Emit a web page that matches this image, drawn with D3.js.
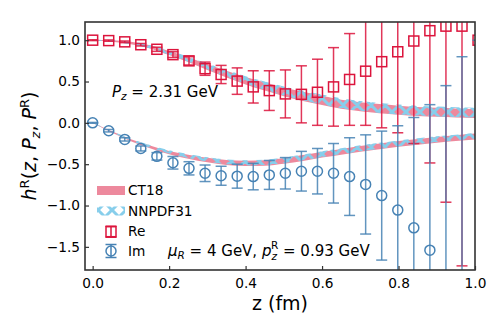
<!DOCTYPE html>
<html><head><meta charset="utf-8">
<script src="https://cdn.jsdelivr.net/npm/d3@7"></script>
<style>
body{margin:0;background:#fff}
svg{font-family:"DejaVu Sans",sans-serif}
</style></head><body>
<svg id="chart" width="500" height="320"></svg>
<script>
// lattice points z (fm)
const zLat = [0, 0.042, 0.084, 0.126, 0.168, 0.21, 0.252, 0.294, 0.336, 0.378, 0.42, 0.462, 0.504,
  0.546, 0.588, 0.63, 0.672, 0.714, 0.756, 0.798, 0.84, 0.882, 0.924, 0.966, 1.008];
const reVal = [1.0, 0.995, 0.98, 0.945, 0.89, 0.825, 0.75, 0.655, 0.585, 0.505, 0.435, 0.39, 0.35,
  0.345, 0.37, 0.435, 0.525, 0.625, 0.74, 0.86, 0.99, 1.115, 1.17, 1.17, 1.0];
const reErr = [0.005, 0.008, 0.01, 0.015, 0.025, 0.035, 0.05, 0.08, 0.11, 0.16, 0.195, 0.24, 0.29,
  0.345, 0.40, 0.475, 0.555, 0.655, 0.80, 0.98, 1.24, 1.6, 2.13, 2.9, 3.5];
const imVal = [0, -0.095, -0.2, -0.31, -0.405, -0.483, -0.55, -0.61, -0.64, -0.645, -0.65, -0.63, -0.61,
  -0.585, -0.585, -0.61, -0.65, -0.745, -0.88, -1.055, -1.27, -1.54, -1.85, -2.2, -2.5];
const imErr = [0.005, 0.015, 0.02, 0.03, 0.045, 0.076, 0.08, 0.1, 0.115, 0.145, 0.16, 0.175, 0.19,
  0.24, 0.275, 0.36, 0.47, 0.6, 0.78, 1.02, 1.335, 1.76, 2.3, 3.0, 3.5];

// PDF predictions
const zBand = [0, 0.05, 0.1, 0.15, 0.2, 0.25, 0.3, 0.35, 0.4, 0.45, 0.5, 0.55, 0.6, 0.65, 0.7,
  0.75, 0.8, 0.85, 0.9, 0.95, 1.0];
const reCT18 = [1.0, 0.99, 0.965, 0.92, 0.845, 0.765, 0.675, 0.59, 0.51, 0.44, 0.375, 0.32, 0.272,
  0.225, 0.195, 0.172, 0.152, 0.138, 0.128, 0.12, 0.114];
const reCT18Err = [0.005, 0.01, 0.015, 0.02, 0.025, 0.03, 0.035, 0.04, 0.045, 0.05, 0.052, 0.055,
  0.055, 0.055, 0.055, 0.055, 0.055, 0.055, 0.055, 0.055, 0.055];
const reNNPDF = [1.0, 0.99, 0.967, 0.923, 0.85, 0.77, 0.682, 0.598, 0.52, 0.45, 0.385, 0.33, 0.282,
  0.237, 0.205, 0.18, 0.162, 0.148, 0.138, 0.13, 0.124];
const reNNPDFErr = [0.005, 0.01, 0.015, 0.02, 0.025, 0.03, 0.035, 0.04, 0.045, 0.05, 0.055, 0.058,
  0.06, 0.06, 0.06, 0.06, 0.06, 0.06, 0.06, 0.06, 0.06];
const imCT18 = [0, -0.11, -0.21, -0.29, -0.36, -0.41, -0.45, -0.48, -0.49, -0.485, -0.46, -0.425,
  -0.385, -0.35, -0.315, -0.285, -0.255, -0.23, -0.205, -0.185, -0.165];
const imCT18Err = [0.003, 0.007, 0.012, 0.016, 0.02, 0.024, 0.027, 0.03, 0.032, 0.033, 0.034, 0.035,
  0.035, 0.035, 0.035, 0.035, 0.035, 0.035, 0.035, 0.035, 0.035];
const imNNPDF = [0, -0.105, -0.205, -0.285, -0.352, -0.402, -0.442, -0.472, -0.483, -0.478, -0.452,
  -0.417, -0.377, -0.342, -0.307, -0.277, -0.247, -0.222, -0.198, -0.178, -0.158];
const imNNPDFErr = [0.003, 0.007, 0.012, 0.016, 0.02, 0.024, 0.027, 0.03, 0.032, 0.033, 0.034, 0.035,
  0.035, 0.035, 0.035, 0.035, 0.035, 0.035, 0.035, 0.035, 0.035];

const xTicks = [0, 0.2, 0.4, 0.6, 0.8, 1.0];
const yTicks = [-1.5, -1.0, -0.5, 0.0, 0.5, 1.0];

const RED = '#dc143c', BLUE = '#4682b4', SKY = '#87ceeb';

const svg = d3.select('#chart');
const margin = {left: 85, top: 22, right: 25, bottom: 50};
const W = 500, H = 320;

const x = d3.scaleLinear().domain([-0.02, 1.0]).range([margin.left, W - margin.right]);
const y = d3.scaleLinear().domain([-1.78, 1.22]).range([H - margin.bottom, margin.top]);

const defs = svg.append('defs');
defs.append('clipPath').attr('id', 'plotclip')
  .append('rect')
  .attr('x', margin.left).attr('y', margin.top)
  .attr('width', W - margin.left - margin.right)
  .attr('height', H - margin.top - margin.bottom);

// 'x' hatch like matplotlib
const hp = defs.append('pattern').attr('id', 'hatch')
  .attr('patternUnits', 'userSpaceOnUse')
  .attr('width', 14).attr('height', 14);
hp.append('path')
  .attr('d', 'M0,0L14,14M-7,7L7,21M7,-7L21,7M0,14L14,0M-7,7L7,-7M7,21L21,7')
  .attr('stroke', SKY).attr('stroke-width', 3).attr('fill', 'none');

const plot = svg.append('g').attr('clip-path', 'url(#plotclip)');

function band(vals, errs) {
  return d3.area()
    .x(i => x(zBand[i]))
    .y0(i => y(vals[i] - errs[i]))
    .y1(i => y(vals[i] + errs[i]))
    .curve(d3.curveMonotoneX)(d3.range(zBand.length));
}

// CT18 bands
[[reCT18, reCT18Err], [imCT18, imCT18Err]].forEach(([v, e]) => {
  plot.append('path').attr('d', band(v, e))
    .attr('fill', RED).attr('fill-opacity', 0.5).attr('stroke', 'none');
});
// NNPDF31 bands (hatched)
[[reNNPDF, reNNPDFErr], [imNNPDF, imNNPDFErr]].forEach(([v, e]) => {
  plot.append('path').attr('d', band(v, e))
    .attr('fill', 'url(#hatch)').attr('stroke', 'none');
});

function errorbars(vals, errs, color, marker) {
  const g = plot.append('g');
  const pts = g.selectAll('g').data(zLat.map((z, i) => ({z: z, v: vals[i], e: errs[i]})))
    .enter().append('g');
  pts.append('line')
    .attr('x1', d => x(d.z)).attr('x2', d => x(d.z))
    .attr('y1', d => y(d.v - d.e)).attr('y2', d => y(d.v + d.e))
    .attr('stroke', color).attr('stroke-width', 1.5).attr('stroke-opacity', 0.85);
  [-1, 1].forEach(s => {
    pts.append('line')
      .attr('x1', d => x(d.z) - 5.5).attr('x2', d => x(d.z) + 5.5)
      .attr('y1', d => y(d.v + s * d.e)).attr('y2', d => y(d.v + s * d.e))
      .attr('stroke', color).attr('stroke-width', 1.5).attr('stroke-opacity', 0.85);
  });
  if (marker === 'square') {
    pts.append('rect')
      .attr('x', d => x(d.z) - 5).attr('y', d => y(d.v) - 5)
      .attr('width', 10).attr('height', 10)
      .attr('fill', 'none').attr('stroke', color).attr('stroke-width', 1.5);
  } else {
    pts.append('circle')
      .attr('cx', d => x(d.z)).attr('cy', d => y(d.v)).attr('r', 5)
      .attr('fill', 'none').attr('stroke', color).attr('stroke-width', 1.5);
  }
}
errorbars(reVal, reErr, RED, 'square');
errorbars(imVal, imErr, BLUE, 'circle');

// axes
const xAxis = d3.axisBottom(x).tickValues(xTicks).tickFormat(d3.format('.1f'))
  .tickSizeInner(-4).tickSizeOuter(0).tickPadding(8.5);
const yAxis = d3.axisLeft(y).tickValues(yTicks).tickFormat(d3.format('.1f'))
  .tickSizeInner(-4).tickSizeOuter(0).tickPadding(5);

const gx = svg.append('g').attr('transform', `translate(0,${H - margin.bottom})`).call(xAxis);
const gy = svg.append('g').attr('transform', `translate(${margin.left},0)`).call(yAxis);
[gx, gy].forEach(g => {
  g.select('.domain').remove();
  g.selectAll('.tick line').attr('stroke', '#333').attr('stroke-width', 1.2);
  g.selectAll('.tick text').attr('font-size', 13.7).attr('fill', '#000')
    .attr('font-family', '"DejaVu Sans", sans-serif');
});

// frame
svg.append('rect')
  .attr('x', margin.left).attr('y', margin.top)
  .attr('width', W - margin.left - margin.right)
  .attr('height', H - margin.top - margin.bottom)
  .attr('fill', 'none').attr('stroke', '#333').attr('stroke-width', 1.6);

// axis labels
const xl = svg.append('text').attr('x', (margin.left + W - margin.right) / 2).attr('y', 310)
  .attr('text-anchor', 'middle').attr('font-size', 19);
xl.append('tspan').text('z (fm)');

const yl = svg.append('text')
  .attr('transform', `translate(36,${(margin.top + H - margin.bottom) / 2}) rotate(-90)`)
  .attr('text-anchor', 'middle').attr('font-size', 19);
yl.append('tspan').attr('font-style', 'italic').text('h');
yl.append('tspan').attr('font-size', 13).attr('dy', -7).text('R');
yl.append('tspan').attr('dy', 7).text('(');
yl.append('tspan').attr('font-style', 'italic').text('z');
yl.append('tspan').text(', ');
yl.append('tspan').attr('font-style', 'italic').text('P');
yl.append('tspan').attr('font-style', 'italic').attr('font-size', 13).attr('dy', 4).text('z');
yl.append('tspan').attr('dy', -4).text(', ');
yl.append('tspan').attr('font-style', 'italic').text('P');
yl.append('tspan').attr('font-size', 13).attr('dy', -7).text('R');
yl.append('tspan').attr('dy', 7).text(')');

// annotations
const a1 = svg.append('text').attr('x', 112).attr('y', 96.5).attr('font-size', 15);
a1.append('tspan').attr('font-style', 'italic').text('P');
a1.append('tspan').attr('font-style', 'italic').attr('font-size', 10.5).attr('dy', 3).text('z');
a1.append('tspan').attr('dy', -3).text(' = 2.31 GeV');

const a2 = svg.append('text').attr('x', 168).attr('y', 256).attr('font-size', 15);
a2.append('tspan').attr('font-style', 'italic').text('μ');
a2.append('tspan').attr('font-style', 'italic').attr('font-size', 10.5).attr('dy', 3).text('R');
a2.append('tspan').attr('dy', -3).text(' = 4 GeV, ');
a2.append('tspan').attr('font-style', 'italic').text('p');
a2.append('tspan').attr('font-style', 'italic').attr('font-size', 10.5).attr('dy', 4).text('z');
a2.append('tspan').attr('font-size', 10.5).attr('dx', -6).attr('dy', -11).text('R');
a2.append('tspan').attr('dy', 7).text(' = 0.93 GeV');

// legend
const lg = svg.append('g');
const lx = 97, lw = 28, tx = 128;
lg.append('rect').attr('x', lx).attr('y', 186).attr('width', lw).attr('height', 9)
  .attr('fill', RED).attr('fill-opacity', 0.5);
lg.append('rect').attr('x', lx).attr('y', 206.5).attr('width', lw).attr('height', 9)
  .attr('fill', 'url(#hatch)');
const mx = lx + lw / 2;
[[231.7, RED, 'square', 5.5], [251, BLUE, 'circle', 6.5]].forEach(([cy, c, m, h]) => {
  lg.append('line').attr('x1', mx).attr('x2', mx).attr('y1', cy - h).attr('y2', cy + h)
    .attr('stroke', c).attr('stroke-width', 1.5);
  [-h, h].forEach(o => lg.append('line').attr('x1', mx - 5.5).attr('x2', mx + 5.5)
    .attr('y1', cy + o).attr('y2', cy + o).attr('stroke', c).attr('stroke-width', 1.5));
  if (m === 'square') {
    lg.append('rect').attr('x', mx - 5).attr('y', cy - 5).attr('width', 10).attr('height', 10)
      .attr('fill', 'none').attr('stroke', c).attr('stroke-width', 1.5);
  } else {
    lg.append('circle').attr('cx', mx).attr('cy', cy).attr('r', 5)
      .attr('fill', 'none').attr('stroke', c).attr('stroke-width', 1.5);
  }
});
[['CT18', 195], ['NNPDF31', 216], ['Re', 236], ['Im', 255.7]].forEach(([t, by]) => {
  lg.append('text').attr('x', tx).attr('y', by).attr('font-size', 13.7).text(t);
});
</script>
</body></html>
